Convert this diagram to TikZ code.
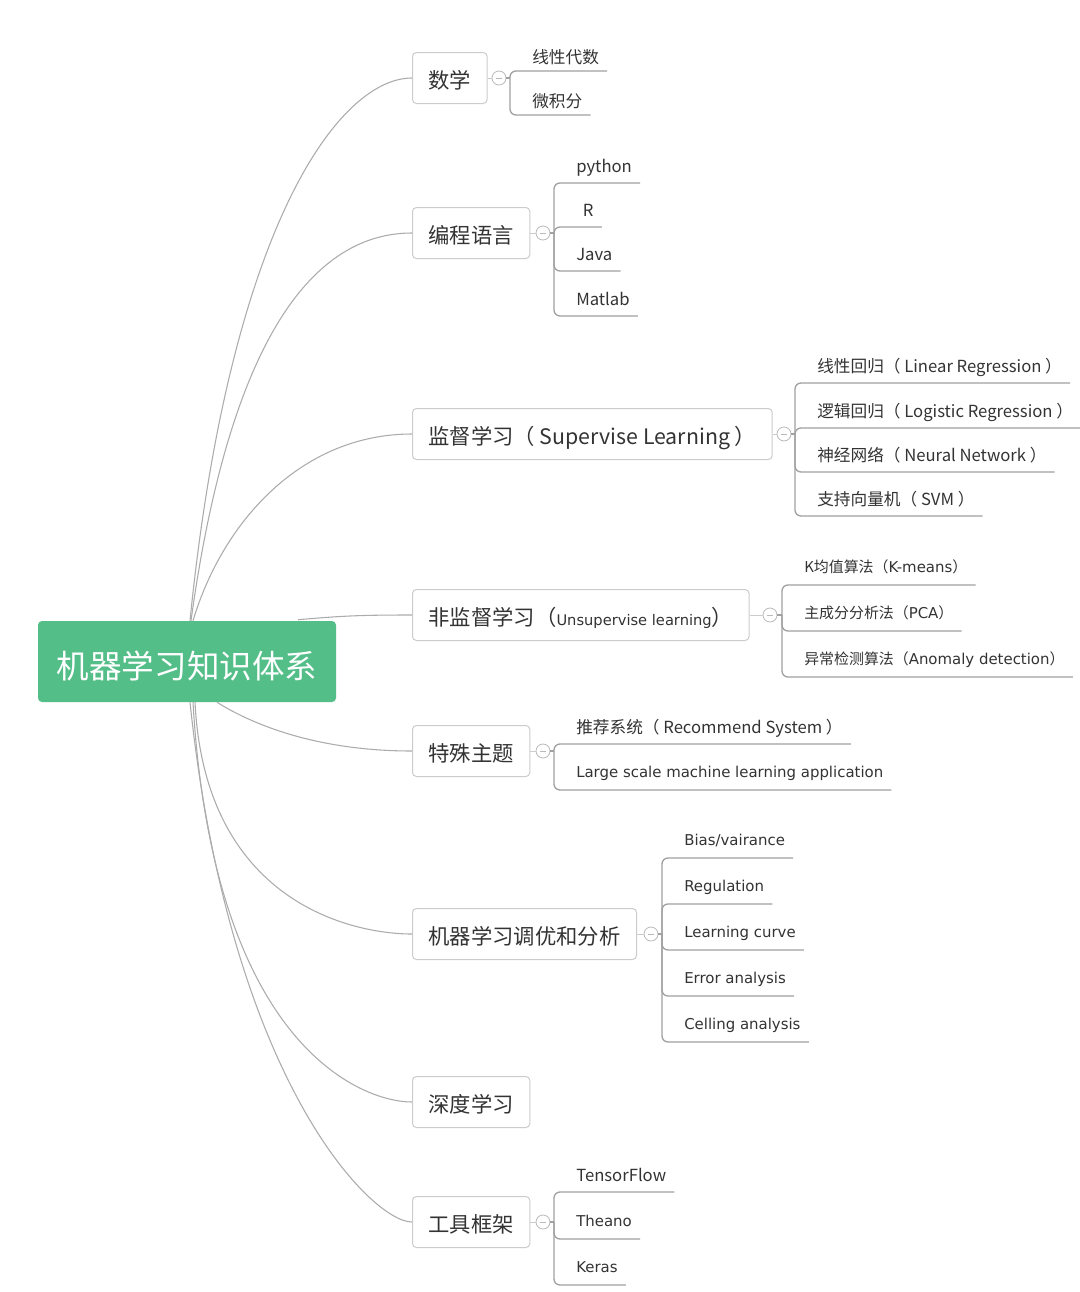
\documentclass[tikz,border=0pt]{standalone}
\usepackage{fontspec}
\setmainfont{DejaVu Sans}
\newfontfamily\zhfont{Noto Sans CJK SC}
\newfontfamily\latinfont{DejaVu Sans}
\usetikzlibrary{calc}
\definecolor{rootgreen}{RGB}{84,190,137}
\definecolor{ink}{RGB}{51,51,51}
\definecolor{linkgray}{RGB}{172,172,172}
\definecolor{boxgray}{RGB}{204,204,204}
\definecolor{leafline}{RGB}{160,160,160}
\definecolor{foldgray}{RGB}{185,185,185}

\begin{document}
\begin{tikzpicture}[x=0.75pt,y=-0.75pt,
  rootnode/.style={fill=rootgreen, rounded corners=3pt, minimum width=223.5pt,
    minimum height=60.75pt, inner sep=0pt, text=white, text height=26.8pt, text depth=1pt,
    font=\zhfont\fontsize{24.4}{28}\selectfont},
  topic/.style={draw=boxgray, line width=0.75pt, fill=white, rounded corners=3pt,
    anchor=west, minimum height=38.25pt, inner xsep=12pt, inner ysep=0pt, text=ink,
    text height=16.8pt, text depth=1.1pt,
    font=\zhfont\fontsize{16}{19}\selectfont},
  fold/.style={circle, draw=foldgray, line width=0.6pt, fill=white, minimum size=10.5pt,
    inner sep=0pt, path picture={\draw[foldgray, line width=0.5pt]
      ([xshift=-2.6pt]path picture bounding box.center) --
      ([xshift=2.6pt]path picture bounding box.center);}},
  link/.style={draw=linkgray, line width=0.8pt},
  stub/.style={draw=boxgray, line width=0.75pt},
  twig/.style={draw=leafline, line width=1pt, rounded corners=4.5pt},
  leaf/.style={anchor=south west, inner xsep=6pt, inner ysep=0pt, text depth=#1, text=ink},
  mathleaf/.style={leaf=5.5pt, font=\zhfont\fontsize{12.5}{15}\selectfont},
  zhleaf/.style={leaf=7.5pt, font=\zhfont\fontsize{12.5}{15}\selectfont},
  enleaf/.style={leaf=9pt, font=\latinfont\fontsize{11.2}{14}\selectfont},
]
\fill[white] (0,0) rectangle (1080,1292);
\useasboundingbox (0,0) rectangle (1080,1292);

% central topic
\node[rootnode] (root) at (187,661.5) {机器学习知识体系};

% main topics
\node[topic] (b1) at (412,78) {数学};
\node[topic] (b2) at (412,233) {编程语言};
\node[topic] (b3) at (412,434) {监督学习（ Supervise Learning ）};
\node[topic] (b4) at (412,615) {非监督学习（{\latinfont\fontsize{11}{13}\selectfont Unsupervise learning}）};
\node[topic] (b5) at (412,751) {特殊主题};
\node[topic] (b6) at (412,934) {机器学习调优和分析};
\node[topic] (b7) at (412,1102) {深度学习};
\node[topic] (b8) at (412,1222) {工具框架};

% curved links from the central topic
\draw[link] ($(root.north)+(3,0)$) .. controls +(40,-398) and +(-72,0) .. (b1.west);
\draw[link] ($(root.north)+(4,0)$) .. controls +(40,-290) and +(-95,0) .. (b2.west);
\draw[link] ($(root.north)+(6,0)$) .. controls +(30,-100) and +(-110,0) .. (b3.west);
\draw[link] ($(root.north)+(111,-1)$) .. controls +(45,-4) and +(-50,0) .. (b4.west);
\draw[link] ($(root.south)+(30,0)$) .. controls +(40,25) and +(-90,0) .. (b5.west);
\draw[link] ($(root.south)+(8,0)$) .. controls +(10,200) and +(-60,0) .. (b6.west);
\draw[link] ($(root.south)+(6,0)$) .. controls +(20,344) and +(-50,0) .. (b7.west);
\draw[link] ($(root.south)+(3,0)$) .. controls +(40,380) and +(-40,0) .. (b8.west);

% collapse markers and branch junctions
\node[fold] (f1) at (499,78) {};
\node[fold] (f2) at (543,233) {};
\node[fold] (f3) at (784,434) {};
\node[fold] (f4) at (770,615) {};
\node[fold] (f5) at (543,751) {};
\node[fold] (f6) at (651,934) {};
\node[fold] (f8) at (543,1222) {};
\coordinate (j1) at (510,78);
\coordinate (j2) at (554,233);
\coordinate (j3) at (795,434);
\coordinate (j4) at (782,615);
\coordinate (j5) at (554,751);
\coordinate (j6) at (662,934);
\coordinate (j8) at (554,1222);
\foreach \k in {1,2,3,4,5,6,8}{
  \draw[stub] (b\k.east) -- (f\k.west);
  \draw[twig] (f\k.east) -- (j\k);
}

% leaves: mathematics
\node[mathleaf] (l11) at (524,71) {线性代数};
\node[mathleaf] (l12) at (524,115) {微积分};
% leaves: programming languages
\node[zhleaf] (l21) at (568,183) {python};
\node[zhleaf] (l22) at (568,227) {\hspace{5pt}R};
\node[zhleaf] (l23) at (568,271) {Java};
\node[zhleaf] (l24) at (568,316) {Matlab};
% leaves: supervised learning
\node[zhleaf] (l31) at (809,383) {线性回归（ Linear Regression ）};
\node[zhleaf] (l32) at (809,428) {逻辑回归（ Logistic Regression ）};
\node[zhleaf] (l33) at (809,472) {神经网络（ Neural Network ）};
\node[zhleaf] (l34) at (809,516) {支持向量机（ SVM ）};
% leaves: unsupervised learning
\node[enleaf] (l41) at (796,585) {{\zhfont K均值算法（}K-means{\zhfont ）}};
\node[enleaf] (l42) at (796,631) {{\zhfont 主成分分析法（}PCA{\zhfont ）}};
\node[enleaf] (l43) at (796,677) {{\zhfont 异常检测算法（}Anomaly detection{\zhfont ）}};
% leaves: special topics
\node[zhleaf] (l51) at (568,744) {推荐系统（ Recommend System ）};
\node[enleaf] (l52) at (568,790) {Large scale machine learning application};
% leaves: tuning and analysis
\node[enleaf] (l61) at (676,858) {Bias/vairance};
\node[enleaf] (l62) at (676,904) {Regulation};
\node[enleaf] (l63) at (676,950) {Learning curve};
\node[enleaf] (l64) at (676,996) {Error analysis};
\node[enleaf] (l65) at (676,1042) {Celling analysis};
% leaves: frameworks
\node[zhleaf] (l81) at (568,1192) {TensorFlow};
\node[enleaf] (l82) at (568,1239) {Theano};
\node[enleaf] (l83) at (568,1285) {Keras};

% underlined leaf connectors
\foreach \j/\l in {j1/l11,j1/l12,
                   j2/l21,j2/l22,j2/l23,j2/l24,
                   j3/l31,j3/l32,j3/l33,j3/l34,
                   j4/l41,j4/l42,j4/l43,
                   j5/l51,j5/l52,
                   j6/l61,j6/l62,j6/l63,j6/l64,j6/l65,
                   j8/l81,j8/l82,j8/l83}{
  \draw[twig] (\j) |- (\l.south west) -- (\l.south east);
}
\end{tikzpicture}
\end{document}
